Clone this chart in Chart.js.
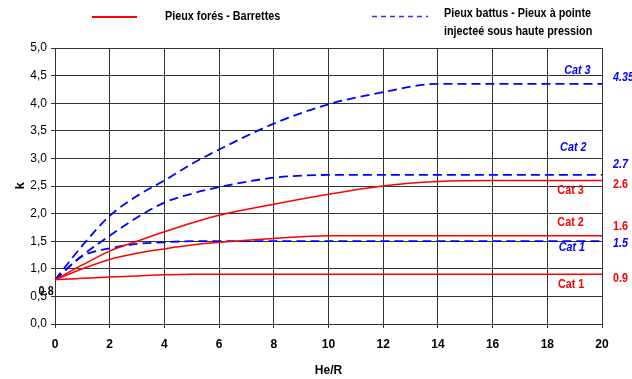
<!DOCTYPE html>
<html><head><meta charset="utf-8">
<script src="https://cdn.jsdelivr.net/npm/chart.js@4"></script>
<style>html,body{margin:0;padding:0;background:#fff}#wrap{width:632px;height:379px}</style>
</head><body><div id="wrap"><canvas id="c" width="632" height="379"></canvas></div>
<script>
const heR = [0, 1, 2, 3, 4, 5, 6, 8, 10, 12, 14, 16, 18, 20];
const foresCat1 = [0.8, 0.83, 0.85, 0.87, 0.89, 0.9, 0.9, 0.9, 0.9, 0.9, 0.9, 0.9, 0.9, 0.9];
const foresCat2 = [0.8, 1.0, 1.17, 1.28, 1.36, 1.43, 1.48, 1.55, 1.6, 1.6, 1.6, 1.6, 1.6, 1.6];
const foresCat3 = [0.8, 1.07, 1.32, 1.5, 1.67, 1.83, 1.97, 2.17, 2.35, 2.5, 2.58, 2.6, 2.6, 2.6];
const battusCat1 = [0.8, 1.23, 1.37, 1.45, 1.48, 1.5, 1.5, 1.5, 1.5, 1.5, 1.5, 1.5, 1.5, 1.5];
const battusCat2 = [0.8, 1.24, 1.6, 1.93, 2.2, 2.36, 2.48, 2.65, 2.7, 2.7, 2.7, 2.7, 2.7, 2.7];
const battusCat3 = [0.8, 1.42, 1.96, 2.32, 2.6, 2.9, 3.16, 3.63, 3.98, 4.2, 4.35, 4.35, 4.35, 4.35];
const yTickLabels = ['0,0', '0,5', '1,0', '1,5', '2,0', '2,5', '3,0', '3,5', '4,0', '4,5', '5,0'];
const legendRed = ['Pieux forés - Barrettes'];
const legendBlue = ['Pieux battus - Pieux à pointe', 'injecteé sous haute pression'];
const notes = [
  {t: 'Cat 3', x: 19.1, y: 4.59, c: '#0000FF', it: true, a: 'center'},
  {t: '4.35', x: 20.4, y: 4.46, c: '#0000FF', it: true, a: 'left'},
  {t: 'Cat 2', x: 18.95, y: 3.2, c: '#0000FF', it: true, a: 'center'},
  {t: '2.7', x: 20.4, y: 2.88, c: '#0000FF', it: true, a: 'left'},
  {t: 'Cat 3', x: 18.85, y: 2.42, c: '#FF0000', it: false, a: 'center'},
  {t: '2.6', x: 20.4, y: 2.53, c: '#FF0000', it: false, a: 'left'},
  {t: 'Cat 2', x: 18.85, y: 1.84, c: '#FF0000', it: false, a: 'center'},
  {t: '1.6', x: 20.4, y: 1.77, c: '#FF0000', it: false, a: 'left'},
  {t: 'Cat 1', x: 18.9, y: 1.39, c: '#0000FF', it: true, a: 'center'},
  {t: '1.5', x: 20.4, y: 1.46, c: '#0000FF', it: true, a: 'left'},
  {t: '0.9', x: 20.4, y: 0.82, c: '#FF0000', it: false, a: 'left'},
  {t: 'Cat 1', x: 18.87, y: 0.71, c: '#FF0000', it: false, a: 'center'},
  {t: '0.8', x: -0.05, y: 0.58, c: '#000000', it: false, a: 'right'}
];
const FONT = "'Liberation Sans Narrow', 'Arial Narrow', 'Liberation Sans', Arial, sans-serif";

function pts(ys) { return heR.map((x, i) => ({x: x, y: ys[i]})); }
function ds(label, ys, color, dash, w) {
  return {label: label, data: pts(ys), borderColor: color, backgroundColor: color,
    borderWidth: w, borderDash: dash, pointRadius: 0, fill: false,
    cubicInterpolationMode: 'monotone'};
}
function narrowText(ctx, t, x, y) {
  ctx.save(); ctx.translate(x, y); ctx.scale(0.9, 1); ctx.fillText(t, 0, 0); ctx.restore();
}

const overlay = {
  id: 'overlay',
  afterDraw(chart) {
    const ctx = chart.ctx, xs = chart.scales.x, ys = chart.scales.y;
    ctx.save();
    ctx.textBaseline = 'middle';
    notes.forEach(n => {
      ctx.font = (n.it ? 'italic ' : '') + 'bold 12px ' + FONT;
      ctx.fillStyle = n.c;
      ctx.textAlign = n.a;
      narrowText(ctx, n.t, xs.getPixelForValue(n.x), ys.getPixelForValue(n.y));
    });
    // legend
    ctx.font = 'bold 12px ' + FONT;
    ctx.fillStyle = '#000';
    ctx.textAlign = 'left';
    ctx.strokeStyle = '#FF0000'; ctx.lineWidth = 2; ctx.setLineDash([]);
    ctx.beginPath(); ctx.moveTo(92, 17); ctx.lineTo(137, 17); ctx.stroke();
    narrowText(ctx, legendRed[0], 165, 17);
    ctx.strokeStyle = '#3333FF'; ctx.lineWidth = 1.5; ctx.setLineDash([5, 4]);
    ctx.beginPath(); ctx.moveTo(372, 16.5); ctx.lineTo(428, 16.5); ctx.stroke();
    ctx.setLineDash([]);
    narrowText(ctx, legendBlue[0], 444, 14);
    narrowText(ctx, legendBlue[1], 444, 32);
    ctx.restore();
  }
};

new Chart(document.getElementById('c'), {
  type: 'line',
  data: {datasets: [
    ds('Pieux forés Cat 1', foresCat1, '#FF0000', [], 1.5),
    ds('Pieux forés Cat 2', foresCat2, '#FF0000', [], 1.5),
    ds('Pieux forés Cat 3', foresCat3, '#FF0000', [], 1.5),
    ds('Pieux battus Cat 1', battusCat1, '#0000FF', [9, 5], 1.8),
    ds('Pieux battus Cat 2', battusCat2, '#0000FF', [9, 5], 1.8),
    ds('Pieux battus Cat 3', battusCat3, '#0000FF', [9, 5], 1.8)
  ]},
  options: {
    responsive: false, animation: false,
    layout: {padding: {left: 0, right: 30, top: 48, bottom: 0}},
    plugins: {legend: {display: false}, tooltip: {enabled: false}},
    scales: {
      x: {
        type: 'linear', min: 0, max: 20,
        ticks: {stepSize: 2, color: '#000', padding: 9, font: {family: FONT, size: 12, weight: 'bold'}},
        grid: {color: '#333', lineWidth: 1, tickLength: 4},
        border: {color: '#333'},
        title: {display: true, text: 'He/R', color: '#000', padding: {top: 0, bottom: 1}, font: {family: FONT, size: 12, weight: 'bold'}},
        afterFit(s) { s.height = 55; }
      },
      y: {
        type: 'linear', min: 0, max: 5,
        ticks: {stepSize: 0.5, color: '#000', padding: 4, font: {family: FONT, size: 12},
          callback: (v, i) => yTickLabels[i]},
        grid: {color: '#333', lineWidth: 1, tickLength: 4},
        border: {color: '#333'},
        title: {display: true, text: 'k', color: '#000', padding: {top: 13, bottom: 0}, font: {family: FONT, size: 13, weight: 'bold'}},
        afterFit(s) { s.width = 55; }
      }
    }
  },
  plugins: [overlay]
});
</script></body></html>
